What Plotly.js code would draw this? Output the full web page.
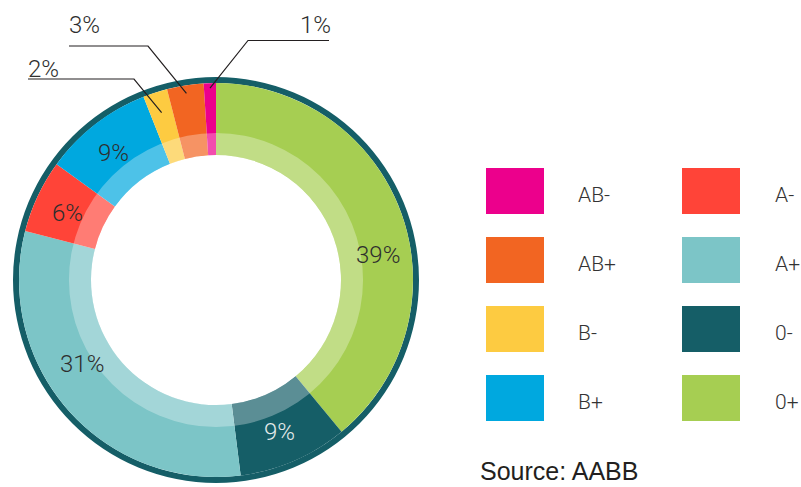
<!DOCTYPE html>
<html>
<head>
<meta charset="utf-8">
<script src="https://cdn.plot.ly/plotly-3.0.1.min.js"></script>
<style>html,body{margin:0;padding:0;background:#fff;}#chart{width:801px;height:487px;}</style>
</head>
<body>
<div id="chart"></div>
<script>
// ---- data ----
const categories = ['0+', '0-', 'A+', 'A-', 'B+', 'B-', 'AB+', 'AB-'];
const shares = [39, 9, 31, 6, 9, 2, 3, 1];
const colors = ['#a6ce52', '#155e67', '#7cc5c7', '#ff4438', '#00a8df', '#fdcb41', '#f26522', '#ec008c'];
const legendColumns = [['AB-', 'AB+', 'B-', 'B+'], ['A-', 'A+', '0-', '0+']];
const calloutCategories = ['AB-', 'AB+', 'B-'];
const sourceText = 'Source: AABB';

// ---- layout helpers ----
const W = 801, H = 487;
const cx = 216, cy = 280;           // donut centre (px)
const R_BORDER = 203, R_OUTER = 197, R_BAND = 147, R_HOLE = 125;
const px = x => x / W;
const py = y => 1 - y / H;
function domainFor(R) {
  return { x: [(cx - R) / W, (cx + R) / W], y: [(H - cy - R) / H, (H - cy + R) / H] };
}
const total = shares.reduce((a, b) => a + b, 0);
function midAngle(i) {
  let before = 0;
  for (let k = 0; k < i; k++) before += shares[k];
  return ((before + shares[i] / 2) / total) * 2 * Math.PI;
}
function pointAt(i, r, dDeg) {
  const a = midAngle(i) + (dDeg || 0) * Math.PI / 180;
  return [cx + r * Math.sin(a), cy - r * Math.cos(a)];
}

const pctFont = { family: 'Roboto, "DejaVu Sans", sans-serif', size: 24, weight: 300 };

const traces = [
  { // outer border ring
    type: 'pie', values: [1], marker: { colors: ['#155e67'] },
    domain: domainFor(R_BORDER), hole: R_OUTER / R_BORDER,
    textinfo: 'none', sort: false, showlegend: false, hoverinfo: 'skip'
  },
  { // coloured slices
    type: 'pie', labels: categories, values: shares, marker: { colors: colors },
    domain: domainFor(R_OUTER), hole: R_HOLE / R_OUTER,
    sort: false, direction: 'clockwise', rotation: 0,
    textinfo: 'none', showlegend: false, hoverinfo: 'label+value'
  },
  { // translucent inner band
    type: 'pie', values: [1], marker: { colors: ['rgba(255,255,255,0.3)'] },
    domain: domainFor(R_BAND), hole: R_HOLE / R_BAND,
    textinfo: 'none', sort: false, showlegend: false, hoverinfo: 'skip'
  }
];

const shapes = [];
const annotations = [];

// inside labels: radius and angular nudge (layout only)
const insideLayout = {
  '0+': { r: 164, d: 10.8 }, '0-': { r: 164, d: 0.8 }, 'A+': { r: 158, d: 9.6 },
  'A-': { r: 163, d: -0.5 }, 'B+': { r: 164, d: -1 }
};
Object.keys(insideLayout).forEach(c => {
  const i = categories.indexOf(c);
  const L = insideLayout[c];
  const [x, y] = pointAt(i, L.r, L.d);
  annotations.push({
    xref: 'paper', yref: 'paper', x: px(x), y: py(y + 1),
    xanchor: 'center', yanchor: 'middle', showarrow: false,
    text: shares[i] + '%',
    font: Object.assign({}, pctFont, { color: c === '0-' ? '#e3eaea' : '#2e2e2e' })
  });
});

// callouts for small slices (label placement is layout)
const calloutLayout = {
  'AB-': { r: 192, elbowX: 248, lineY: 40.5, farX: 329, textX: 315, textY: 25 },
  'AB+': { r: 189, elbowX: 148, lineY: 46, farX: 69, textX: 84, textY: 25 },
  'B-':  { r: 176, elbowX: 134, lineY: 79, farX: 28, textX: 43, textY: 69 }
};
calloutCategories.forEach(c => {
  const i = categories.indexOf(c);
  const L = calloutLayout[c];
  const [ex, ey] = pointAt(i, L.r, 0);
  shapes.push({
    type: 'path', xref: 'paper', yref: 'paper',
    path: `M ${px(L.farX)} ${py(L.lineY)} L ${px(L.elbowX)} ${py(L.lineY)} L ${px(ex)} ${py(ey)}`,
    line: { color: '#231f20', width: 1.2 }
  });
  annotations.push({
    xref: 'paper', yref: 'paper', x: px(L.textX), y: py(L.textY),
    xanchor: 'center', yanchor: 'middle', showarrow: false,
    text: shares[i] + '%', font: Object.assign({}, pctFont, { color: '#2e2e2e' })
  });
});

// custom legend
const legX = [486, 682], legTextX = [576, 773], legY0 = 168, legStep = 69, boxW = 58, boxH = 46;
legendColumns.forEach((col, ci) => {
  col.forEach((c, ri) => {
    const idx = categories.indexOf(c);
    const y0 = legY0 + ri * legStep;
    shapes.push({
      type: 'rect', xref: 'paper', yref: 'paper',
      x0: px(legX[ci]), x1: px(legX[ci] + boxW), y0: py(y0), y1: py(y0 + boxH),
      fillcolor: colors[idx], line: { width: 0 }
    });
    annotations.push({
      xref: 'paper', yref: 'paper', x: px(legTextX[ci]), y: py(y0 + boxH / 2 + 4),
      xanchor: 'left', yanchor: 'middle', showarrow: false, text: c,
      font: { family: 'Roboto, "DejaVu Sans", sans-serif', size: 21, weight: 300, color: '#333333' }
    });
  });
});
annotations.push({
  xref: 'paper', yref: 'paper', x: px(478), y: py(471),
  xanchor: 'left', yanchor: 'middle', showarrow: false, text: sourceText,
  font: { family: '"Liberation Sans", Arial, sans-serif', size: 25, color: '#231f20' }
});

const layout = {
  width: W, height: H,
  margin: { l: 0, r: 0, t: 0, b: 0 },
  paper_bgcolor: '#ffffff', plot_bgcolor: '#ffffff',
  showlegend: false,
  shapes: shapes, annotations: annotations
};
Plotly.newPlot('chart', traces, layout, { displayModeBar: false, staticPlot: true });
</script>
</body>
</html>
